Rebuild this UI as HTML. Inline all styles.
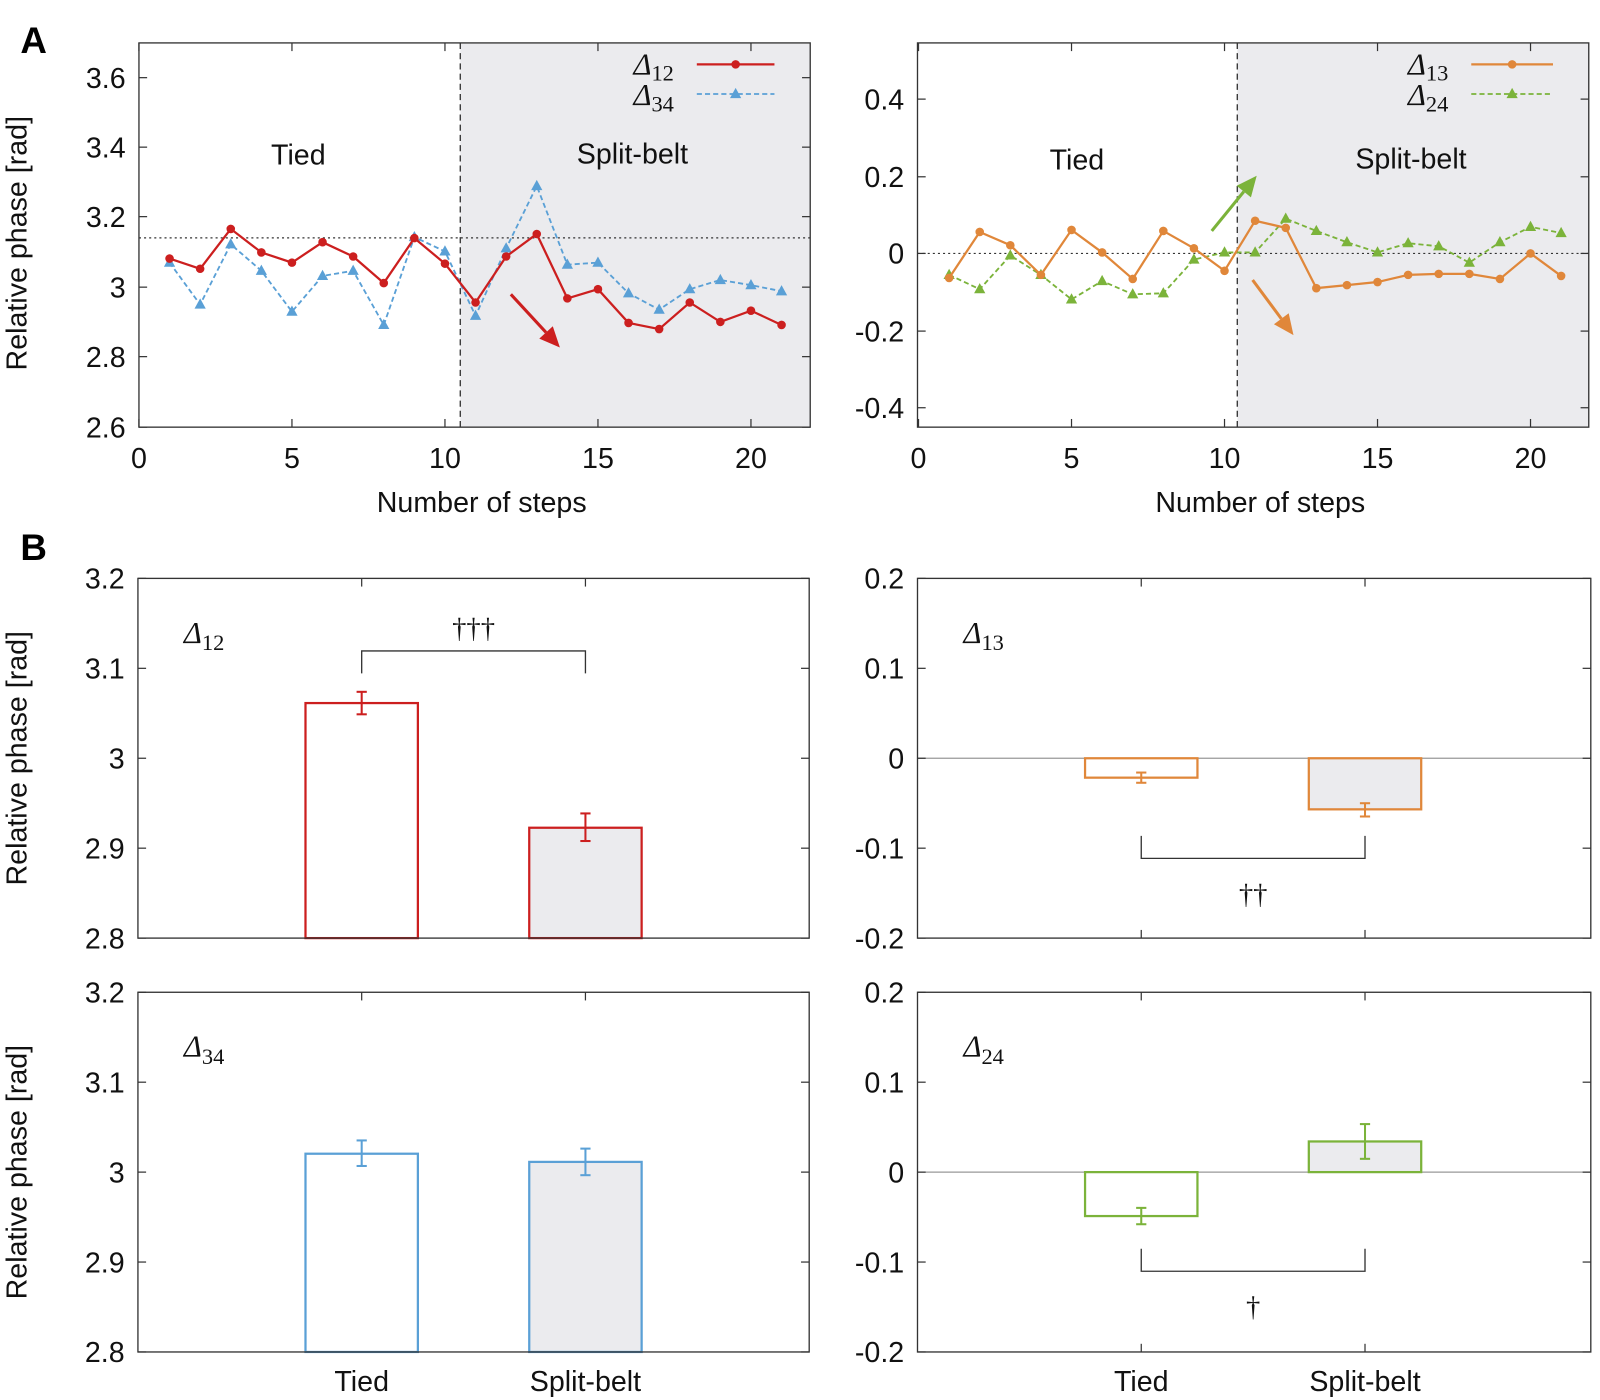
<!DOCTYPE html>
<html><head><meta charset="utf-8"><style>
body{margin:0;background:#fff}
svg{display:block;font-family:"Liberation Sans",sans-serif}
.t{font-size:28px;fill:#111}
.g{font-family:"Liberation Serif",serif;font-style:italic;font-size:30px;fill:#111}
.s{font-size:22px}
</style></head><body>
<svg id="s" width="1600" height="1400" viewBox="0 0 1566 1370" preserveAspectRatio="none" xmlns="http://www.w3.org/2000/svg">
<rect width="1566" height="1370" fill="#fff"/>
<text x="20" y="52" font-size="36" font-weight="bold">A</text>
<text x="20" y="548" font-size="36" font-weight="bold">B</text>
</svg>
<script>
const S=document.getElementById('s'),NS='http://www.w3.org/2000/svg';
function el(t,a,txt){const e=document.createElementNS(NS,t);for(const k in a)e.setAttribute(k,a[k]);if(txt!==undefined)e.innerHTML=txt;S.appendChild(e);return e;}
function txt(x,y,s,anchor,cls,extra){return el('text',Object.assign({x:x,y:y,'text-anchor':anchor||'middle',class:cls||'t'},extra||{}),s);}
function ylab(x,y,s){txt(x,y,s,'middle','t',{transform:`rotate(-90 ${x} ${y})`});}
function ticksY(x0,x1,list){list.forEach(([y,l])=>{el('line',{x1:x0,x2:x0+8,y1:y,y2:y,stroke:'#333','stroke-width':1.2});el('line',{x1:x1-8,x2:x1,y1:y,y2:y,stroke:'#333','stroke-width':1.2});txt(x0-13,y+10,l,'end');});}
function arrow(x1,y1,x2,y2,c){const a=Math.atan2(y2-y1,x2-x1),L=20,W=9;
 const bx=x2-L*Math.cos(a),by=y2-L*Math.sin(a);
 el('line',{x1:x1,y1:y1,x2:bx,y2:by,stroke:c,'stroke-width':3});
 el('polygon',{points:`${x2},${y2} ${bx+W*Math.sin(a)},${by-W*Math.cos(a)} ${bx-W*Math.sin(a)},${by+W*Math.cos(a)}`,fill:c});}
function tri(x,y,c){el('polygon',{points:`${x},${y-6} ${x-5.5},${y+4} ${x+5.5},${y+4}`,fill:c});}
function series(x0,ys,c,dash,mk){const pts=ys.map((y,i)=>[x0+(i+1)*29.95,y]);
 el('polyline',{points:pts.map(p=>p.join(',')).join(' '),fill:'none',stroke:c,'stroke-width':dash?1.8:2.2,'stroke-dasharray':dash?'5,3':'none'});
 pts.forEach(p=>mk=='c'?el('circle',{cx:p[0],cy:p[1],r:4.2,fill:c}):tri(p[0],p[1],c));}
function panelA(L,R,shadeX,yt){
 el('rect',{x:shadeX,y:42,width:R-shadeX,height:376,fill:'#ebebee'});
 el('line',{x1:shadeX,x2:shadeX,y1:42,y2:418,stroke:'#333','stroke-width':1.3,'stroke-dasharray':'6,4'});
 const x0=L+(L>800?1:0);
 [0,5,10,15,20].forEach(v=>{const x=x0+v*29.95;el('line',{x1:x,x2:x,y1:418,y2:410,stroke:'#333','stroke-width':1.2});el('line',{x1:x,x2:x,y1:42,y2:50,stroke:'#333','stroke-width':1.2});txt(x,458,v);});
 ticksY(L,R,yt);
 txt((L+R)/2+7,501,'Number of steps');
}
panelA(136,793,450.5,[[76,'3.6'],[144,'3.4'],[212,'3.2'],[281,'3'],[349,'2.8'],[418,'2.6']]);
el('line',{x1:136,x2:793,y1:232.8,y2:232.8,stroke:'#333','stroke-width':1.2,'stroke-dasharray':'2,3'});
txt(292,161,'Tied');txt(619,160,'Split-belt');
series(136,[257,298,239,265,305,270,265,318,232,246,309,243,182,259,257,287,303,283,274,279,285],'#5aa0d6',true,'t');
series(136,[253,263,224,247,257,237,251,277,233,258,296,251,229,292,283,316,322,296,315,304,318],'#cc1f1f',false,'c');
arrow(500,288,548,340,'#cc1f1f');
el('rect',{x:136,y:42,width:657,height:376,fill:'none',stroke:'#333','stroke-width':1.3});
ylab(26,238,'Relative phase [rad]');
txt(620,73,'Δ<tspan class="s" dy="6" font-style="normal">12</tspan>','start','g');
txt(620,103,'Δ<tspan class="s" dy="6" font-style="normal">34</tspan>','start','g');
el('line',{x1:682,x2:758,y1:63,y2:63,stroke:'#cc1f1f','stroke-width':2.2});el('circle',{cx:720,cy:63,r:4.2,fill:'#cc1f1f'});
el('line',{x1:682,x2:758,y1:92,y2:92,stroke:'#5aa0d6','stroke-width':1.8,'stroke-dasharray':'5,3'});tri(720,92,'#5aa0d6');
panelA(898,1555,1211,[[97,'0.4'],[173,'0.2'],[248,'0'],[324,'-0.2'],[399,'-0.4']]);
el('line',{x1:898,x2:1555,y1:248,y2:248,stroke:'#333','stroke-width':1.2,'stroke-dasharray':'2,3'});
txt(1054,166,'Tied');txt(1381,165,'Split-belt');
series(899,[269,283,250,269,293,275,288,287,254,247,247,214,226,237,247,238,241,257,237,222,228],'#7bb33a',true,'t');
series(899,[272,227,240,269,225,247,273,226,243,265,216,223,282,279,276,269,268,268,273,248,270],'#e0873a',false,'c');
arrow(1186,226,1230,172,'#7bb33a');arrow(1226,274,1266,328,'#e0873a');
el('rect',{x:898,y:42,width:657,height:376,fill:'none',stroke:'#333','stroke-width':1.3});
txt(1378,73,'Δ<tspan class="s" dy="6" font-style="normal">13</tspan>','start','g');
txt(1378,103,'Δ<tspan class="s" dy="6" font-style="normal">24</tspan>','start','g');
el('line',{x1:1440,x2:1520,y1:63,y2:63,stroke:'#e0873a','stroke-width':2.2});el('circle',{cx:1480,cy:63,r:4.2,fill:'#e0873a'});
el('line',{x1:1440,x2:1520,y1:92,y2:92,stroke:'#7bb33a','stroke-width':1.8,'stroke-dasharray':'5,3'});tri(1480,92,'#7bb33a');
function panelB(L,R,T,B,yt,c,bars,label,zero,brk,dag,xl){
 if(zero!==null)el('line',{x1:L,x2:R,y1:zero,y2:zero,stroke:'#999','stroke-width':1.2});
 const cs=[L+219,L+438];
 cs.forEach(x=>{el('line',{x1:x,x2:x,y1:B,y2:B-8,stroke:'#333','stroke-width':1.2});el('line',{x1:x,x2:x,y1:T,y2:T+8,stroke:'#333','stroke-width':1.2});});
 bars.forEach((b,i)=>{const x=cs[i]-55,y1=Math.min(b[0],b[1]),h=Math.abs(b[1]-b[0]);
  el('rect',{x:x,y:y1,width:110,height:h,fill:i?'#ebebee':'#fff',stroke:c,'stroke-width':2.2});
  el('line',{x1:cs[i],x2:cs[i],y1:b[2],y2:b[3],stroke:c,'stroke-width':2});
  [b[2],b[3]].forEach(y=>el('line',{x1:cs[i]-5,x2:cs[i]+5,y1:y,y2:y,stroke:c,'stroke-width':2}));});
 ticksY(L,R,yt);
 txt(L+45,T+63,'Δ<tspan class="s" dy="7" font-style="normal">'+label+'</tspan>','start','g');
 if(brk){el('polyline',{points:`${cs[0]},${brk[1]} ${cs[0]},${brk[0]} ${cs[1]},${brk[0]} ${cs[1]},${brk[1]}`,fill:'none',stroke:'#333','stroke-width':1.3});
  txt((cs[0]+cs[1])/2,dag,brk[2],'middle','t',{'font-size':'40','font-family':'Liberation Serif, DejaVu Serif, serif'});}
 if(xl){txt(cs[0],B+38,'Tied');txt(cs[1],B+38,'Split-belt');}
 el('rect',{x:L,y:T,width:R-L,height:B-T,fill:'none',stroke:'#333','stroke-width':1.3});
}
panelB(135,792,566,918,[[566,'3.2'],[654,'3.1'],[742,'3'],[830,'2.9'],[918,'2.8']],'#cc1f1f',[[688,918,677,699],[810,918,796,823]],'12',null,[637,659,'†††'],624,false);
panelB(898,1557,566,918,[[566,'0.2'],[654,'0.1'],[742,'0'],[830,'-0.1'],[918,'-0.2']],'#e0873a',[[742,761,756,766],[742,792,786,799]],'13',742,[840,818,'††'],884,false);
panelB(135,792,971,1323,[[971,'3.2'],[1059,'3.1'],[1147,'3'],[1235,'2.9'],[1323,'2.8']],'#5aa0d6',[[1129,1323,1116,1141],[1137,1323,1124,1150]],'34',null,null,0,true);
panelB(898,1557,971,1323,[[971,'0.2'],[1059,'0.1'],[1147,'0'],[1235,'-0.1'],[1323,'-0.2']],'#7bb33a',[[1147,1190,1182,1198],[1117,1147,1100,1134]],'24',1147,[1244,1222,'†'],1288,true);
ylab(26,742,'Relative phase [rad]');ylab(26,1147,'Relative phase [rad]');
</script>
</body></html>
